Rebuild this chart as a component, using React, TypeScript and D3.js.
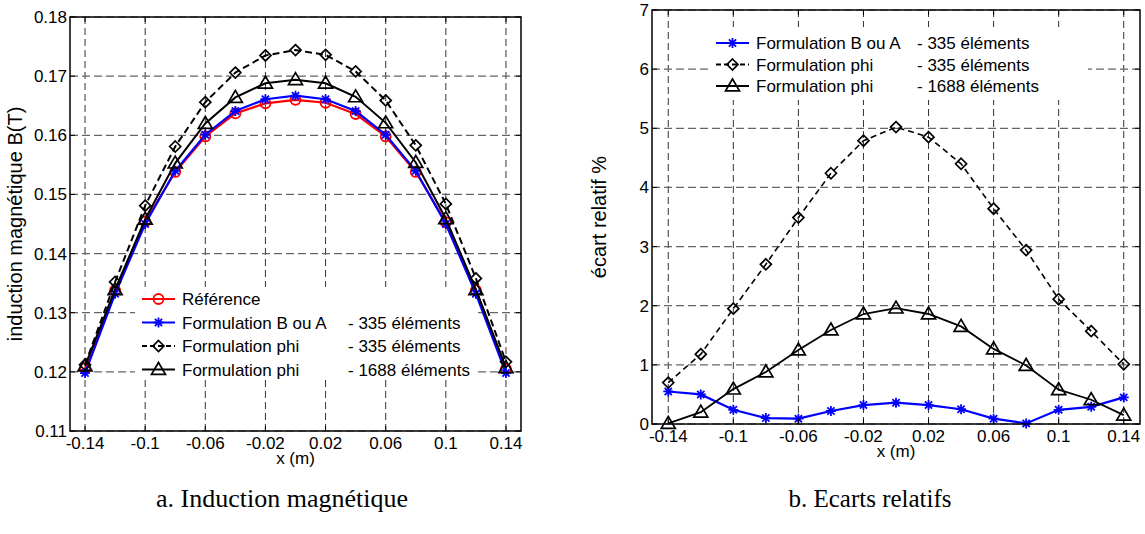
import React from "react";
import * as d3 from "d3";

const xValues = [-0.14, -0.12, -0.1, -0.08, -0.06, -0.04, -0.02, 0, 0.02, 0.04, 0.06, 0.08, 0.1, 0.12, 0.14];

// Left chart: induction magnétique B(T)
const bReference = [0.1206, 0.1338, 0.1454, 0.1538, 0.1598, 0.1637, 0.1654, 0.1660, 0.1655, 0.1636, 0.1598, 0.1538, 0.1453, 0.1338, 0.1205];
const bFormBA = [0.1198, 0.1332, 0.1450, 0.1540, 0.1601, 0.1641, 0.1661, 0.1667, 0.1661, 0.1641, 0.1601, 0.1540, 0.1450, 0.1332, 0.1198];
const bPhi335 = [0.1212, 0.1352, 0.1481, 0.1581, 0.1656, 0.1706, 0.1735, 0.1744, 0.1736, 0.1708, 0.1659, 0.1583, 0.1484, 0.1358, 0.1217];
const bPhi1688 = [0.1210, 0.1339, 0.1458, 0.1553, 0.1620, 0.1664, 0.1688, 0.1694, 0.1688, 0.1665, 0.1621, 0.1554, 0.1459, 0.1339, 0.1207];

// Right chart: écart relatif %
const eFormBA = [0.55, 0.50, 0.24, 0.10, 0.09, 0.22, 0.32, 0.36, 0.32, 0.25, 0.09, 0.01, 0.24, 0.29, 0.45];
const ePhi335 = [0.70, 1.18, 1.95, 2.70, 3.49, 4.24, 4.79, 5.02, 4.85, 4.40, 3.64, 2.94, 2.11, 1.57, 1.01];
const ePhi1688 = [0.01, 0.20, 0.59, 0.88, 1.25, 1.59, 1.86, 1.96, 1.86, 1.65, 1.27, 0.99, 0.58, 0.41, 0.15];

const xTicks = [-0.14, -0.1, -0.06, -0.02, 0.02, 0.06, 0.1, 0.14];
const bTicks = [0.11, 0.12, 0.13, 0.14, 0.15, 0.16, 0.17, 0.18];
const eTicks = [0, 1, 2, 3, 4, 5, 6, 7];

const legendLeft = [
  { name: "Référence", suffix: "", marker: "circle", color: "#ff0000", dash: "" },
  { name: "Formulation B ou A", suffix: "- 335 éléments", marker: "star", color: "#0000ff", dash: "" },
  { name: "Formulation phi", suffix: "- 335 éléments", marker: "diamond", color: "#000000", dash: "5,3" },
  { name: "Formulation phi", suffix: "- 1688 éléments", marker: "triangle", color: "#000000", dash: "" },
];
const legendRight = legendLeft.slice(1);

const FONT = "'Liberation Sans', Arial, Helvetica, sans-serif";
const SERIF = "'Liberation Serif', 'Times New Roman', serif";

function Marker({ type, x, y, color }: { type: string; x: number; y: number; color: string }) {
  if (type === "circle") return <circle cx={x} cy={y} r={5} fill="none" stroke={color} strokeWidth={1.8} />;
  if (type === "diamond") {
    const s = 5.5;
    return <path d={`M${x},${y - s}L${x + s},${y}L${x},${y + s}L${x - s},${y}Z`} fill="none" stroke={color} strokeWidth={1.7} />;
  }
  if (type === "triangle") {
    const s = 7;
    return <path d={`M${x},${y - s}L${x + s},${y + s * 0.7}L${x - s},${y + s * 0.7}Z`} fill="none" stroke={color} strokeWidth={1.7} />;
  }
  const s = 5, d = s * 0.72;
  return (
    <path
      d={`M${x - s},${y}L${x + s},${y}M${x},${y - s}L${x},${y + s}M${x - d},${y - d}L${x + d},${y + d}M${x - d},${y + d}L${x + d},${y - d}`}
      stroke={color}
      strokeWidth={1.8}
    />
  );
}

type Series = { values: number[]; marker: string; color: string; dash: string; width: number };

function Chart({
  left, right, top, bottom, yDomain, yTicks, yFmt, series, yLabel, legend, legendBox, legendX, legendY0, legendStep, suffixDx,
}: any) {
  const x = d3.scaleLinear().domain([-0.15, 0.15]).range([left, right]);
  const y = d3.scaleLinear().domain(yDomain).range([bottom, top]);
  const line = d3.line<number>().x((_, i) => x(xValues[i])).y((v) => y(v));
  return (
    <g>
      <rect x={left} y={top} width={right - left} height={bottom - top} fill="#fff" />
      {xTicks.map((t) => (
        <line key={"gx" + t} x1={x(t)} x2={x(t)} y1={top} y2={bottom} stroke="#333" strokeWidth={1} strokeDasharray="7,4" />
      ))}
      {yTicks.map((t: number) => (
        <line key={"gy" + t} x1={left} x2={right} y1={y(t)} y2={y(t)} stroke="#666" strokeWidth={1.2} strokeDasharray="8,4" />
      ))}
      {legendBox && (
        <rect x={legendBox[0]} y={legendBox[1]} width={legendBox[2]} height={legendBox[3]} fill="#fff" />
      )}
      {series.map((s: Series, k: number) => (
        <g key={"s" + k}>
          <path d={line(s.values) || ""} fill="none" stroke={s.color} strokeWidth={s.width} strokeDasharray={s.dash} />
          {s.values.map((v, i) => (
            <Marker key={i} type={s.marker} x={x(xValues[i])} y={y(v)} color={s.color} />
          ))}
        </g>
      ))}
      <rect x={left} y={top} width={right - left} height={bottom - top} fill="none" stroke="#000" strokeWidth={1.5} />
      {xTicks.map((t) => (
        <g key={"tx" + t}>
          <line x1={x(t)} x2={x(t)} y1={bottom} y2={bottom - 5} stroke="#000" />
          <line x1={x(t)} x2={x(t)} y1={top} y2={top + 5} stroke="#000" />
          <text x={x(t)} y={bottom + 18} textAnchor="middle" fontSize={17} fontFamily={FONT}>
            {String(t)}
          </text>
        </g>
      ))}
      {yTicks.map((t: number) => (
        <g key={"ty" + t}>
          <line x1={left} x2={left + 5} y1={y(t)} y2={y(t)} stroke="#000" />
          <line x1={right} x2={right - 5} y1={y(t)} y2={y(t)} stroke="#000" />
          <text x={left - 3} y={y(t) + 6} textAnchor="end" fontSize={17} fontFamily={FONT}>
            {yFmt(t)}
          </text>
        </g>
      ))}
      <text x={(left + right) / 2} y={bottom + 33} textAnchor="middle" fontSize={17} fontFamily={FONT}>
        x (m)
      </text>
      <text
        transform={`translate(${yLabel.x},${(top + bottom) / 2}) rotate(-90)`}
        textAnchor="middle"
        fontSize={20}
        fontFamily={FONT}
      >
        {yLabel.text}
      </text>
      {legend.map((l: any, i: number) => {
        const ly = legendY0 + i * legendStep;
        return (
          <g key={"l" + i}>
            <line x1={legendX} x2={legendX + 33} y1={ly} y2={ly} stroke={l.color} strokeWidth={l.color === "#000000" ? 1.8 : 2.2} strokeDasharray={l.dash} />
            <Marker type={l.marker} x={legendX + 16.5} y={ly} color={l.color} />
            <text x={legendX + 40} y={ly + 6} fontSize={17} fontFamily={FONT}>
              {l.name}
            </text>
            {l.suffix && (
              <text x={legendX + 40 + suffixDx} y={ly + 6} fontSize={17} fontFamily={FONT}>
                {l.suffix}
              </text>
            )}
          </g>
        );
      })}
    </g>
  );
}

export default function App() {
  const leftSeries: Series[] = [
    { values: bReference, marker: "circle", color: "#ff0000", dash: "", width: 2.2 },
    { values: bFormBA, marker: "star", color: "#0000ff", dash: "", width: 2.2 },
    { values: bPhi335, marker: "diamond", color: "#000000", dash: "7,4", width: 2 },
    { values: bPhi1688, marker: "triangle", color: "#000000", dash: "", width: 2 },
  ];
  const rightSeries: Series[] = [
    { values: eFormBA, marker: "star", color: "#0000ff", dash: "", width: 2.2 },
    { values: ePhi335, marker: "diamond", color: "#000000", dash: "6,4", width: 1.6 },
    { values: ePhi1688, marker: "triangle", color: "#000000", dash: "", width: 1.8 },
  ];
  return (
    <svg width={1145} height={534} style={{ display: "block", position: "absolute", left: 0, top: 0, background: "#fff" }}>
      <rect width={1145} height={534} fill="#fff" />
      <Chart
        left={70} right={521} top={17} bottom={431}
        yDomain={[0.11, 0.18]} yTicks={bTicks} yFmt={(t: number) => t.toFixed(2)}
        series={leftSeries}
        yLabel={{ x: 22, text: "induction magnétique B(T)" }}
        legend={legendLeft} legendBox={[135, 287, 340, 91]} legendX={142} legendY0={299} legendStep={23.5} suffixDx={166}
      />
      <Chart
        left={652} right={1140} top={10} bottom={424}
        yDomain={[0, 7]} yTicks={eTicks} yFmt={(t: number) => String(t)}
        series={rightSeries}
        yLabel={{ x: 606, text: "écart relatif %" }}
        legend={legendRight} legendBox={[710, 27, 378, 73]} legendX={716} legendY0={43} legendStep={21.5} suffixDx={161}
      />
      <text x={282} y={507} textAnchor="middle" fontSize={26} fontFamily={SERIF}>
        a. Induction magnétique
      </text>
      <text x={870} y={507} textAnchor="middle" fontSize={25} fontFamily={SERIF}>
        b. Ecarts relatifs
      </text>
    </svg>
  );
}
